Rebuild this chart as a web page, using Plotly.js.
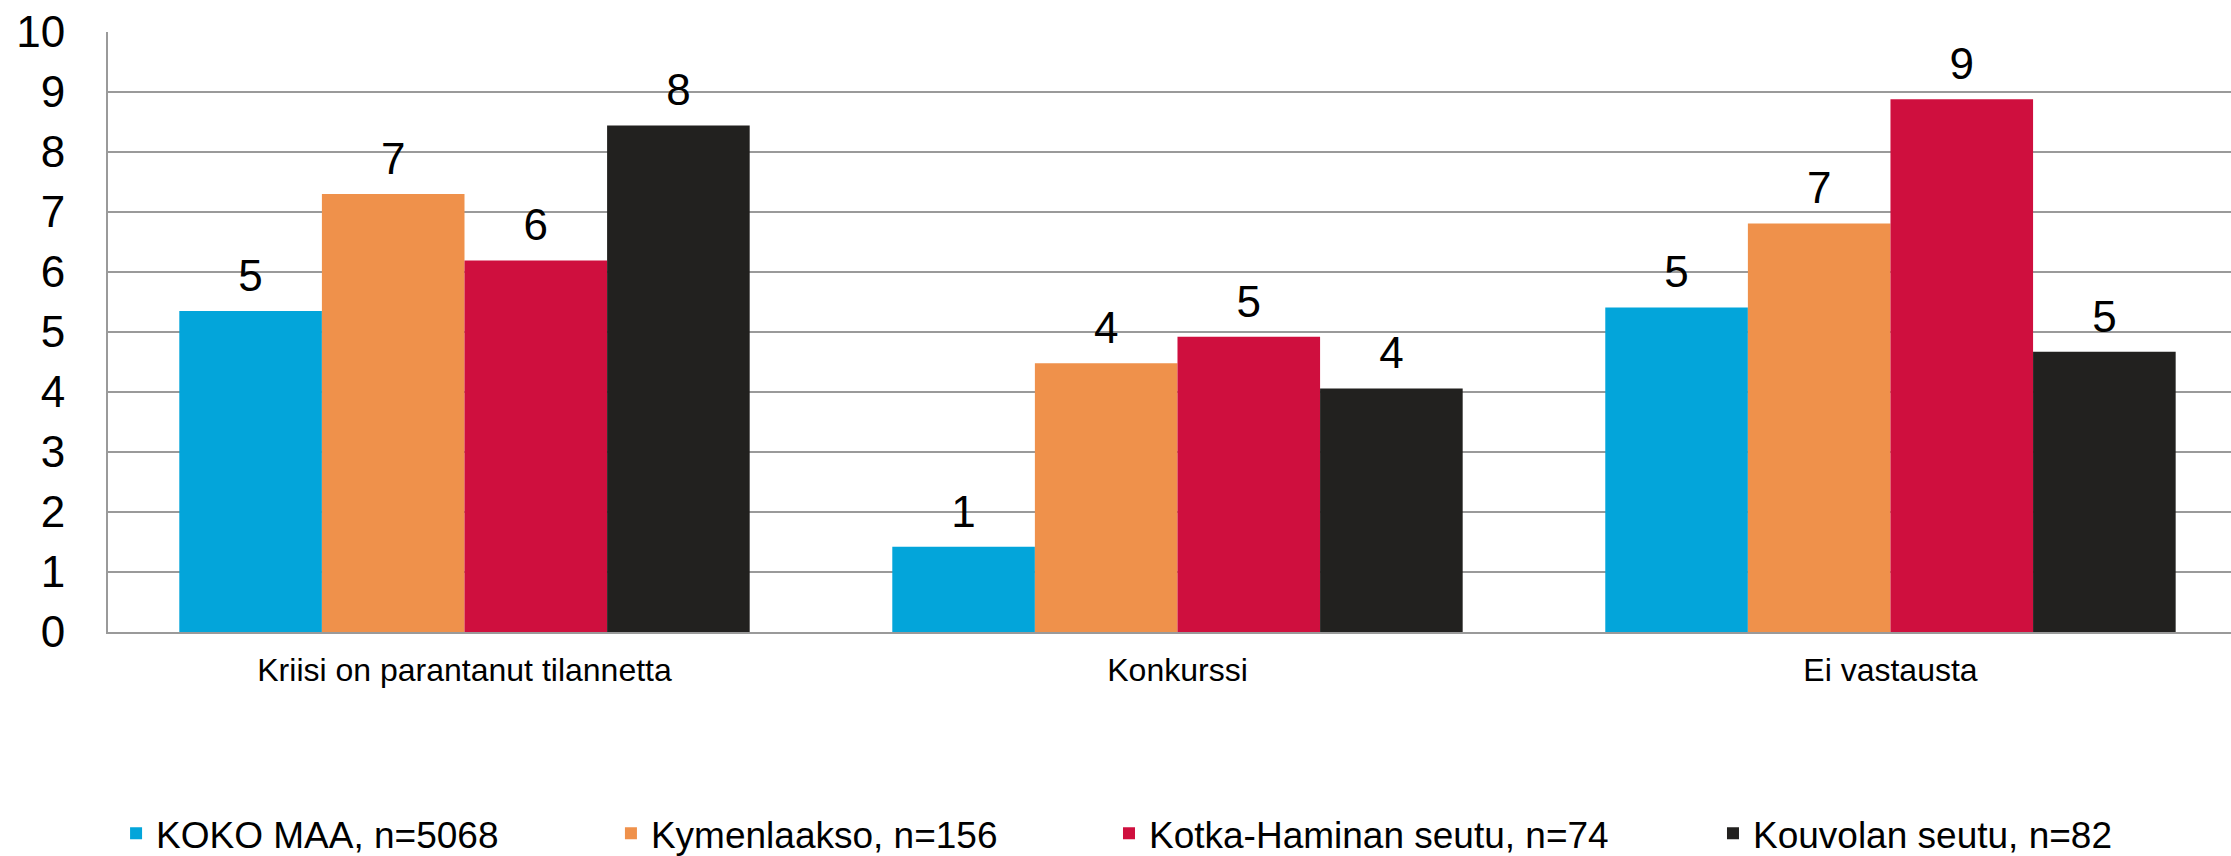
<!DOCTYPE html>
<html>
<head>
<meta charset="utf-8">
<script src="https://cdn.plot.ly/plotly-3.0.1.min.js"></script>
<style>html,body{margin:0;padding:0;background:#fff;}#chart{width:2231px;height:856px;}</style>
</head>
<body>
<div id="chart"></div>
<script>
const categories = ["Kriisi on parantanut tilannetta", "Konkurssi", "Ei vastausta"];
const seriesNames = ["KOKO MAA, n=5068", "Kymenlaakso, n=156", "Kotka-Haminan seutu, n=74", "Kouvolan seutu, n=82"];
const kokoMaa = [5.35, 1.42, 5.41];
const kymenlaakso = [7.30, 4.48, 6.81];
const kotkaHamina = [6.19, 4.92, 8.88];
const kouvola = [8.44, 4.06, 4.67];
const colors = ["#03A5DA", "#EF914B", "#CF0F3E", "#22211F"];

const FONT = "Liberation Sans, Arial, sans-serif";
const allValues = [kokoMaa, kymenlaakso, kotkaHamina, kouvola];
const legendIds = ["legend", "legend2", "legend3", "legend4"];
const legendX = [0.0038, 0.2369, 0.4715, 0.7560];

const barTraces = allValues.map((vals, i) => ({
  type: "bar",
  name: seriesNames[i],
  x: categories,
  y: vals,
  marker: {color: colors[i]},
  legend: legendIds[i],
  hoverinfo: "skip"
}));

const labelTraces = allValues.map((vals, i) => ({
  type: "scatter",
  mode: "markers+text",
  x: categories,
  y: vals,
  text: vals.map(v => Math.round(v).toString()),
  textposition: "top center",
  textfont: {family: FONT, size: 44, color: "#000"},
  marker: {size: 13, opacity: 0, color: colors[i]},
  cliponaxis: false,
  showlegend: false,
  hoverinfo: "skip"
}));

const legendBase = (x) => ({
  x: x, xanchor: "left", xref: "paper",
  y: 0.026, yanchor: "middle", yref: "container",
  orientation: "h", font: {family: FONT, size: 37, color: "#000"},
  bgcolor: "rgba(0,0,0,0)", borderwidth: 0
});

const layout = {
  width: 2231, height: 856,
  margin: {l: 108, r: 0, t: 32, b: 224, pad: 0},
  paper_bgcolor: "#fff", plot_bgcolor: "#fff",
  barmode: "group", bargap: 0.2, bargroupgap: 0,
  scattermode: "group", scattergap: 0.2,
  showlegend: true,
  font: {family: FONT, color: "#000"},
  xaxis: {
    type: "category",
    range: [-0.5, 2.4776],
    showline: true, linecolor: "#9a9a9a", linewidth: 2,
    showgrid: false, ticks: "",
    tickfont: {family: FONT, size: 32, color: "#000"},
    ticklabelstandoff: 9
  },
  yaxis: {
    range: [0, 10], dtick: 1, tick0: 0,
    showline: true, linecolor: "#9a9a9a", linewidth: 2,
    showgrid: true, gridcolor: "#9a9a9a", gridwidth: 2,
    zeroline: false, ticks: "",
    tickfont: {family: FONT, size: 44, color: "#000"},
    ticklabelstandoff: 32
  }
};
legendIds.forEach((id, i) => { layout[id] = legendBase(legendX[i]); });

Plotly.newPlot("chart", barTraces.concat(labelTraces), layout, {displayModeBar: false, staticPlot: true});
</script>
</body>
</html>
